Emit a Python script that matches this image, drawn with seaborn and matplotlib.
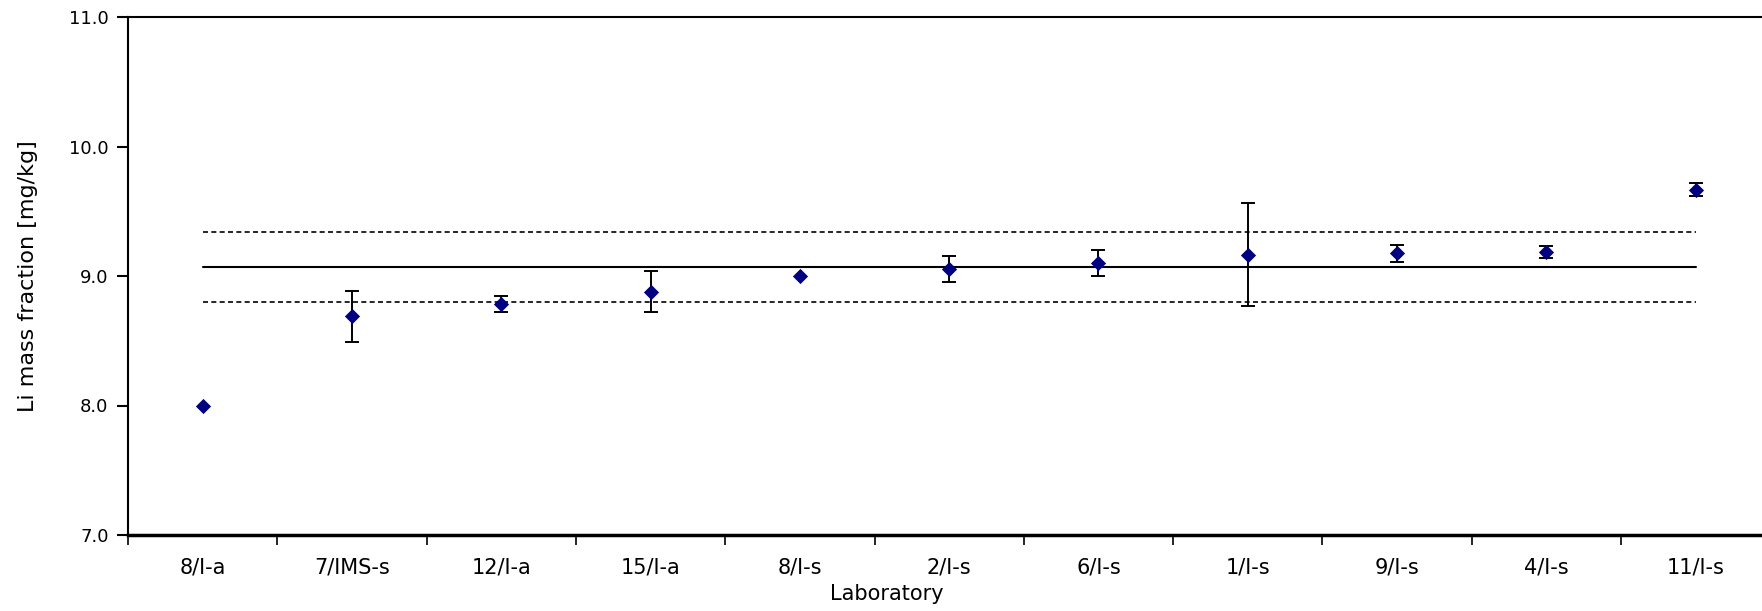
import numpy as np
import pandas as pd
import seaborn as sns
import matplotlib.pyplot as plt
from matplotlib.ticker import FixedLocator

labs = ['8/I-a', '7/IMS-s', '12/I-a', '15/I-a', '8/I-s', '2/I-s',
        '6/I-s', '1/I-s', '9/I-s', '4/I-s', '11/I-s']
vals = [8.00, 8.69, 8.785, 8.88, 9.00, 9.055, 9.10, 9.165, 9.175, 9.185, 9.665]
errs = [0.0, 0.197, 0.06, 0.16, 0.0, 0.10, 0.10, 0.40, 0.067, 0.045, 0.05]
ref_mean = 9.068
ref_band = [9.341, 8.800]

sns.set_style('white')
plt.rcParams['font.family'] = ['DejaVu Sans']
plt.rcParams['text.color'] = 'black'
plt.rcParams['axes.labelcolor'] = 'black'
plt.rcParams['xtick.color'] = 'black'
plt.rcParams['ytick.color'] = 'black'

df = pd.DataFrame({'lab': labs, 'val': vals, 'err': errs})

fig = plt.figure(figsize=(17.62, 6.11), dpi=100)
ax = fig.add_axes([128/1762, 1 - 535/611, 1 - 128/1762, (535 - 17)/611])

# markers first so the category order follows labs
sns.scatterplot(data=df, x='lab', y='val', marker='D', s=60, color='#000080',
                edgecolor='#000080', linewidth=0, zorder=3, ax=ax)

sub = df[df['err'] > 0]
ax.errorbar(sub['lab'], sub['val'], yerr=sub['err'], fmt='none',
            ecolor='black', elinewidth=1.4, capsize=5, capthick=1.4, zorder=2)

# reference value and its band
ax.plot([labs[0], labs[-1]], [ref_mean, ref_mean], color='black', lw=1.5, zorder=1)
for v in ref_band:
    ax.plot([labs[0], labs[-1]], [v, v], color='black', lw=1.2,
            dashes=(3, 2), zorder=1)

ax.set_ylim(7.0, 11.0)
ax.set_xlim(-0.5, 10.444)
ax.set_yticks([7, 8, 9, 10, 11])
ax.set_yticklabels(['7.0', '8.0', '9.0', '10.0', '11.0'], fontsize=13)
ax.set_xticks(range(len(labs)))
ax.set_xticklabels(labs, fontsize=15)
ax.xaxis.set_minor_locator(FixedLocator(np.arange(-0.5, len(labs), 1.0)))
ax.tick_params(axis='x', which='both', bottom=True)
ax.tick_params(axis='x', which='major', length=0, pad=16)
ax.tick_params(axis='x', which='minor', length=7, width=1.2, direction='out')
ax.tick_params(axis='y', left=True, length=8, width=1.5, direction='out', pad=6)

ax.set_xlabel('Laboratory', fontsize=15)
ax.xaxis.set_label_coords((887 - 128) / (1762 - 128), -0.095)
ax.set_ylabel('Li mass fraction [mg/kg]', fontsize=16, labelpad=22)

for s in ['left', 'top', 'bottom']:
    ax.spines[s].set_visible(True)
    ax.spines[s].set_color('black')
ax.spines['left'].set_linewidth(1.5)
ax.spines['top'].set_linewidth(1.5)
ax.spines['bottom'].set_linewidth(2.5)
ax.spines['right'].set_visible(False)

fig.savefig('out.png', dpi=100)
